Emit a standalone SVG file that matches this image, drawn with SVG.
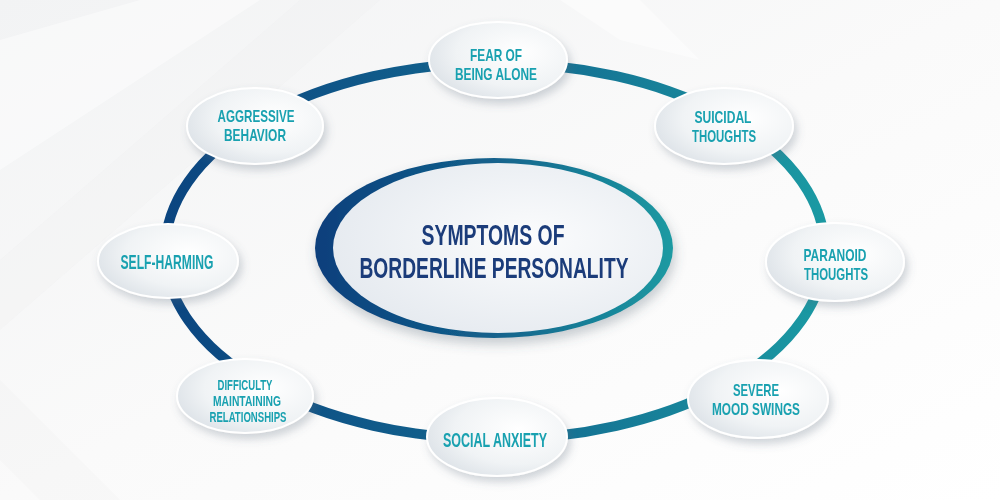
<svg xmlns="http://www.w3.org/2000/svg" width="1000" height="500" viewBox="0 0 1000 500">
  <defs>
    <linearGradient id="bg" x1="0" y1="0" x2="1" y2="1">
      <stop offset="0" stop-color="#f2f3f4"/>
      <stop offset="0.5" stop-color="#fafafa"/>
      <stop offset="1" stop-color="#ffffff"/>
    </linearGradient>
    <linearGradient id="ringGrad" gradientUnits="userSpaceOnUse" x1="165" y1="0" x2="825" y2="0">
      <stop offset="0" stop-color="#0b4580"/>
      <stop offset="0.45" stop-color="#12628d"/>
      <stop offset="1" stop-color="#1b9aa3"/>
    </linearGradient>
    <linearGradient id="hubRing" gradientUnits="userSpaceOnUse" x1="315" y1="0" x2="673" y2="0">
      <stop offset="0" stop-color="#0c3f7c"/>
      <stop offset="0.5" stop-color="#13628c"/>
      <stop offset="1" stop-color="#1c9aa2"/>
    </linearGradient>
    <radialGradient id="hubFill" cx="0.6" cy="0.45" r="0.7">
      <stop offset="0" stop-color="#fbfcfd"/>
      <stop offset="1" stop-color="#e3e8ee"/>
    </radialGradient>
    <radialGradient id="nodeFill" cx="0.65" cy="0.4" r="0.75">
      <stop offset="0" stop-color="#ffffff"/>
      <stop offset="0.6" stop-color="#f0f3f5"/>
      <stop offset="1" stop-color="#d9dfe5"/>
    </radialGradient>
    <filter id="shadow" x="-30%" y="-30%" width="160%" height="170%">
      <feDropShadow dx="3" dy="5" stdDeviation="4" flood-color="#5a6a7a" flood-opacity="0.28"/>
    </filter>
    <filter id="hubShadow" x="-20%" y="-20%" width="140%" height="150%">
      <feDropShadow dx="2" dy="6" stdDeviation="6" flood-color="#4a5a6a" flood-opacity="0.3"/>
    </filter>
  </defs>
  <style>
    .node ellipse { fill: url(#nodeFill); stroke: #ffffff; stroke-width: 2; filter: url(#shadow); }
    .label { font-family: "Liberation Sans Narrow", "Liberation Sans", "DejaVu Sans Condensed", sans-serif; font-weight: bold; fill: #19a1b0; text-anchor: middle; font-size: 17px; }
    .one { font-size: 20px; }
    .small { font-size: 14px; }
    .hubtext { font-family: "Liberation Sans Narrow", "Liberation Sans", "DejaVu Sans Condensed", sans-serif; font-weight: bold; fill: #1b3c7a; text-anchor: middle; font-size: 29px; }
  </style>

  <rect width="1000" height="500" fill="url(#bg)"/>
  <g opacity="0.45">
    <polygon points="0,40 140,0 260,0 0,170" fill="#ffffff"/>
    <polygon points="0,260 300,0 380,0 0,330" fill="#ececee" opacity="0.5"/>
    <polygon points="0,380 120,500 40,500 0,460" fill="#ececee" opacity="0.5"/>
    <polygon points="560,0 640,0 700,60 620,40" fill="#ffffff"/>
  </g>

  <g id="connectors">
    <ellipse cx="495" cy="251" rx="330" ry="188" fill="none" stroke="url(#ringGrad)" stroke-width="10"/>
  </g>

  <g id="hub">
    <ellipse cx="494" cy="248" rx="179" ry="90" fill="url(#hubRing)" filter="url(#hubShadow)"/>
    <ellipse cx="498" cy="248" rx="165" ry="85" fill="url(#hubFill)"/>
    <text class="hubtext" x="493" y="245" textLength="143" lengthAdjust="spacingAndGlyphs">SYMPTOMS OF</text>
    <text class="hubtext" x="494" y="278" textLength="269" lengthAdjust="spacingAndGlyphs">BORDERLINE PERSONALITY</text>
  </g>

  <g id="node-fear" class="node">
    <ellipse cx="498" cy="60" rx="69" ry="38"/>
    <text class="label" x="496" y="61" textLength="52" lengthAdjust="spacingAndGlyphs">FEAR OF</text>
    <text class="label" x="496" y="80" textLength="82" lengthAdjust="spacingAndGlyphs">BEING ALONE</text>
  </g>

  <g id="node-suicidal" class="node">
    <ellipse cx="724" cy="126" rx="69" ry="38"/>
    <text class="label" x="723" y="123" textLength="57" lengthAdjust="spacingAndGlyphs">SUICIDAL</text>
    <text class="label" x="724" y="142" textLength="64" lengthAdjust="spacingAndGlyphs">THOUGHTS</text>
  </g>

  <g id="node-paranoid" class="node">
    <ellipse cx="835" cy="262" rx="69" ry="39"/>
    <text class="label" x="835" y="261" textLength="63" lengthAdjust="spacingAndGlyphs">PARANOID</text>
    <text class="label" x="836" y="280" textLength="64" lengthAdjust="spacingAndGlyphs">THOUGHTS</text>
  </g>

  <g id="node-severe" class="node">
    <ellipse cx="758" cy="399" rx="70" ry="39"/>
    <text class="label" x="756" y="396" textLength="46" lengthAdjust="spacingAndGlyphs">SEVERE</text>
    <text class="label" x="756" y="415" textLength="88" lengthAdjust="spacingAndGlyphs">MOOD SWINGS</text>
  </g>

  <g id="node-social" class="node">
    <ellipse cx="497" cy="437" rx="70" ry="39"/>
    <text class="label one" x="495" y="447" textLength="104" lengthAdjust="spacingAndGlyphs">SOCIAL ANXIETY</text>
  </g>

  <g id="node-difficulty" class="node">
    <ellipse cx="245" cy="396" rx="68" ry="37"/>
    <text class="label small" x="245" y="390" textLength="55" lengthAdjust="spacingAndGlyphs">DIFFICULTY</text>
    <text class="label small" x="247" y="406" textLength="68" lengthAdjust="spacingAndGlyphs">MAINTAINING</text>
    <text class="label small" x="248" y="422" textLength="77" lengthAdjust="spacingAndGlyphs">RELATIONSHIPS</text>
  </g>

  <g id="node-selfharm" class="node">
    <ellipse cx="168" cy="261" rx="70" ry="37"/>
    <text class="label one" x="167" y="269" textLength="93" lengthAdjust="spacingAndGlyphs">SELF-HARMING</text>
  </g>

  <g id="node-aggressive" class="node">
    <ellipse cx="255" cy="126" rx="68" ry="38"/>
    <text class="label" x="256" y="122" textLength="77" lengthAdjust="spacingAndGlyphs">AGGRESSIVE</text>
    <text class="label" x="255" y="141" textLength="62" lengthAdjust="spacingAndGlyphs">BEHAVIOR</text>
  </g>
</svg>
